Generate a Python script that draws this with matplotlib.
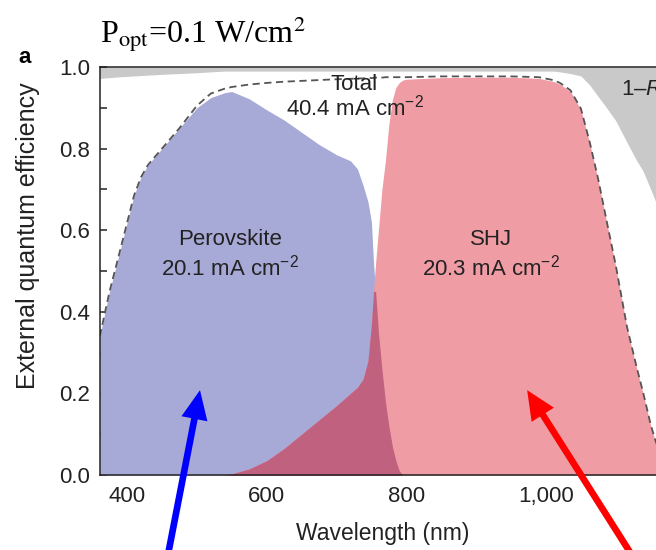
import numpy as np
import matplotlib
matplotlib.use("Agg")
import matplotlib.pyplot as plt
from matplotlib.ticker import FixedLocator, FuncFormatter

plt.rcParams["font.family"] = ["Liberation Sans", "DejaVu Sans"]
plt.rcParams["mathtext.fontset"] = "custom"
plt.rcParams["mathtext.rm"] = "Liberation Sans"
plt.rcParams["mathtext.it"] = "Liberation Sans:italic"

# ---- data ----
wavelength = [361, 375, 390, 410, 420, 430, 450, 475, 500, 520, 540, 550, 575, 600, 625,
              650, 675, 700, 720, 730, 738, 745, 750, 753, 756, 760, 765, 770, 775,
              780, 785, 790, 795, 800, 850, 900, 950, 990, 1010, 1020, 1035, 1050,
              1063, 1075, 1088, 1100, 1116, 1130, 1139, 1150, 1157, 1170, 1180]
perovskite = [0.34, 0.45, 0.55, 0.685, 0.73, 0.76, 0.80, 0.85, 0.90, 0.925, 0.937, 0.94,
              0.922, 0.895, 0.87, 0.84, 0.81, 0.785, 0.77, 0.75, 0.71, 0.67, 0.62,
              0.52, 0.45, 0.35, 0.26, 0.18, 0.12, 0.07, 0.035, 0.01, 0, 0, 0, 0, 0,
              0, 0, 0, 0, 0, 0, 0, 0, 0, 0, 0, 0, 0, 0, 0, 0]
shj = [0, 0, 0, 0, 0, 0, 0, 0, 0, 0, 0, 0.003, 0.015, 0.035, 0.065, 0.10, 0.135, 0.17,
       0.20, 0.215, 0.235, 0.28, 0.37, 0.45, 0.52, 0.60, 0.70, 0.77, 0.86, 0.92,
       0.95, 0.962, 0.968, 0.970, 0.974, 0.975, 0.975, 0.972, 0.965, 0.958, 0.94,
       0.895, 0.81, 0.72, 0.61, 0.51, 0.36, 0.26, 0.20, 0.12, 0.08, 0.02, 0.0]
total = [0.34, 0.45, 0.55, 0.685, 0.73, 0.76, 0.80, 0.85, 0.905, 0.935, 0.947, 0.951,
         0.957, 0.961, 0.964, 0.966, 0.968, 0.970, 0.971, 0.972, 0.972, 0.973,
         0.973, 0.973, 0.974, 0.974, 0.974, 0.975, 0.975, 0.975, 0.975, 0.975,
         0.975, 0.975, 0.977, 0.977, 0.977, 0.975, 0.968, 0.961, 0.943, 0.898,
         0.813, 0.723, 0.613, 0.513, 0.363, 0.263, 0.203, 0.123, 0.083, 0.023, 0.003]
one_minus_r = [0.972, 0.974, 0.976, 0.978, 0.979, 0.980, 0.982, 0.984, 0.986, 0.988, 0.99,
               0.99, 0.99, 0.99, 0.99, 0.99, 0.99, 0.99, 0.99, 0.99, 0.99, 0.99,
               0.99, 0.99, 0.99, 0.99, 0.99, 0.99, 0.99, 0.99, 0.99, 0.99, 0.99,
               0.99, 0.99, 0.99, 0.99, 0.99, 0.99, 0.988, 0.984, 0.978, 0.955,
               0.927, 0.897, 0.868, 0.815, 0.77, 0.745, 0.70, 0.67, 0.62, 0.58]

x_major = [400, 600, 800, 1000, 1200]
x_minor = [500, 700, 900, 1100]
y_major = [0.0, 0.2, 0.4, 0.6, 0.8, 1.0]
y_minor = [0.1, 0.3, 0.5, 0.7, 0.9]

wl = np.array(wavelength)
pv = np.array(perovskite)
sh = np.array(shj)

W, H = 656, 550
fig = plt.figure(figsize=(W / 100, H / 100), dpi=100)
ax = fig.add_axes([100 / W, 75 / H, 570 / W, 408 / H])

c_gray = "#c9c9c9"
c_blue = "#a7a9d6"
c_pink = "#f09ca5"
c_dark = "#c0617f"

ax.fill_between(wl, one_minus_r, 1.0, color=c_gray, lw=0, zorder=1)
ax.fill_between(wl, 0, pv, color=c_blue, lw=0, zorder=2)
ax.fill_between(wl, 0, sh, color=c_pink, lw=0, zorder=3)
ax.fill_between(wl, 0, np.minimum(pv, sh), color=c_dark, lw=0, zorder=4)
ax.plot(wl, total, color="#555555", lw=1.3, ls=(0, (4, 2.5)), zorder=5)

ax.set_xlim(361.3, 361.3 + 570 / 0.6983)
ax.set_ylim(0, 1.0)
ax.xaxis.set_major_locator(FixedLocator(x_major))
ax.xaxis.set_minor_locator(FixedLocator(x_minor))
ax.yaxis.set_major_locator(FixedLocator(y_major))
ax.yaxis.set_minor_locator(FixedLocator(y_minor))
ax.xaxis.set_major_formatter(FuncFormatter(lambda v, p: f"{v:,.0f}"))
ax.yaxis.set_major_formatter(FuncFormatter(lambda v, p: f"{v:.1f}"))
ax.tick_params(which="both", direction="in", width=1.1, colors="#222222",
               labelsize=16, labelcolor="#222222")
ax.tick_params(axis="x", which="major", length=6, pad=8)
ax.tick_params(axis="x", which="minor", length=3)
ax.tick_params(axis="y", which="both", length=5, pad=7)
for s in ax.spines.values():
    s.set_linewidth(1.1)
    s.set_color("#222222")
    s.set_zorder(6)

ax.set_xlabel("Wavelength (nm)", fontsize=16.5, color="#222222")
ax.xaxis.set_label_coords((383 - 100) / 570, -(522 - 475) / 408)
ax.set_ylabel("External quantum efficiency", fontsize=18, color="#222222")
ax.yaxis.set_label_coords((40 - 100) / 570, (475 - 236) / 408)

txt = dict(fontsize=16, color="#222222", ha="center", va="center", zorder=7)
ax.text(547, 0.576, "Perovskite", **txt)
ax.text(547, 0.508, "20.1 mA cm$^{-2}$", **txt)
ax.text(921, 0.576, "SHJ", **txt)
ax.text(921, 0.508, "20.3 mA cm$^{-2}$", **txt)
ax.text(725, 0.957, "Total", **txt)
ax.text(727, 0.90, "40.4 mA cm$^{-2}$", **txt)
ax.text(1107, 0.946, "1\u2013$R$", fontsize=16, color="#222222", ha="left",
        va="center", zorder=7, clip_on=False)

arrow_kw = dict(width=4.8, headwidth=19, headlength=21, shrink=0, lw=0)
ax.annotate("", xy=(504.5, 0.208), xytext=(457, -0.21), xycoords="data",
            textcoords="data", annotation_clip=False,
            arrowprops=dict(facecolor="#0000ff", **arrow_kw), zorder=8)
ax.annotate("", xy=(973, 0.208), xytext=(1128, -0.21), xycoords="data",
            textcoords="data", annotation_clip=False,
            arrowprops=dict(facecolor="#ff0000", **arrow_kw), zorder=8)

fig.text(100 / W, 1 - 14 / H, r"P$_{\mathrm{opt}}$=0.1 W/cm$^{2}$", fontsize=23,
         family="Liberation Serif", math_fontfamily="stix", ha="left", va="top",
         color="black")
fig.text(18 / W, 1 - 63 / H, "a", fontsize=16, fontweight="bold", ha="left",
         va="baseline", color="black")

fig.savefig("out.png", dpi=100)
